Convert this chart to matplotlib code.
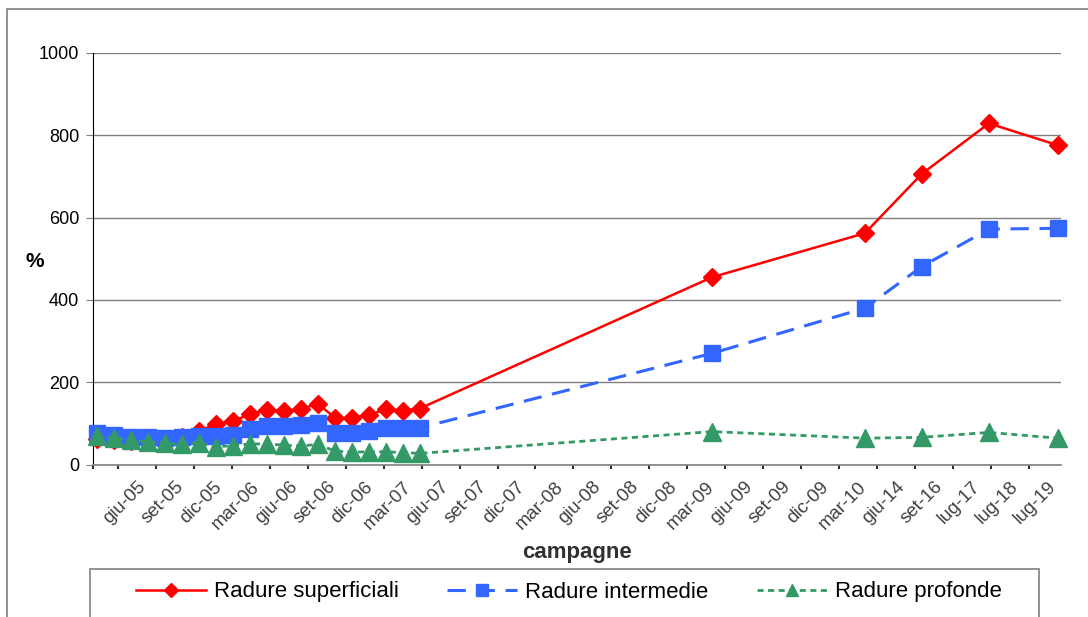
import matplotlib
matplotlib.use("Agg")
import matplotlib.pyplot as plt
from matplotlib.lines import Line2D
from matplotlib.patches import Rectangle

plt.rcParams['font.family'] = ['Liberation Sans', 'DejaVu Sans']

# campaign labels on the category axis
labels = ['giu-05', 'set-05', 'dic-05', 'mar-06', 'giu-06', 'set-06', 'dic-06',
          'mar-07', 'giu-07', 'set-07', 'dic-07', 'mar-08', 'giu-08', 'set-08',
          'dic-08', 'mar-09', 'giu-09', 'set-09', 'dic-09', 'mar-10', 'giu-14',
          'set-16', 'lug-17', 'lug-18', 'lug-19']

# sampling positions along the axis (in label-interval units)
x_obs = [-0.56, -0.11, 0.34, 0.78, 1.23, 1.68, 2.13, 2.58, 3.02, 3.47,
         3.92, 4.37, 4.82, 5.26, 5.71, 6.16, 6.61, 7.06, 7.50, 7.95,
         15.65, 19.68, 21.18, 22.95, 24.76]

superficiali = [63, 60, 58, 57, 58, 66, 82, 98, 105, 122,
                133, 129, 134, 148, 114, 112, 121, 134, 131, 136,
                455, 562, 706, 829, 776]
intermedie = [76, 72, 68, 67, 65, 68, 70, 69, 71, 86,
              93, 93, 95, 101, 76, 76, 81, 88, 88, 89,
              270, 380, 481, 572, 574]
profonde = [70, 64, 59, 55, 52, 49, 53, 43, 46, 50,
            50, 47, 45, 49, 33, 30, 31, 31, 29, 27,
            80, 64, 66, 78, 64]

series_names = ['Radure superficiali', 'Radure intermedie', 'Radure profonde']

RED = '#FF0000'
BLUE = '#3366FF'
GREEN = '#339966'

fig = plt.figure(figsize=(10.88, 6.17), dpi=100)
ax = fig.add_axes([93/1088, 1 - 464.5/617, (1061 - 93)/1088, (464.5 - 53)/617])

ax.plot(x_obs, superficiali, color=RED, lw=1.8, marker='D', ms=9.5,
        label=series_names[0], zorder=3, clip_on=False)
ax.plot(x_obs, intermedie, color=BLUE, lw=2.2, ls=(0, (6, 3.5)), marker='s', ms=11,
        label=series_names[1], zorder=4, clip_on=False)
ax.plot(x_obs, profonde, color=GREEN, lw=2.0, ls=(0, (2.2, 1.6)), marker='^', ms=13,
        label=series_names[2], zorder=5, clip_on=False)

ax.set_xlim(-0.66, 24.85)
ax.set_ylim(0, 1000)
ax.set_yticks(range(0, 1001, 200))
ax.yaxis.grid(True, color='#808080', lw=1)
ax.set_axisbelow(True)
ax.tick_params(axis='y', length=5, color='#808080', labelsize=13, pad=5)

# tick marks at interval boundaries, labels centred between them
ax.set_xticks([-0.66] + list(range(len(labels))))
ax.set_xticklabels([])
ax.tick_params(axis='x', which='major', length=3, color='#303030', width=1.5)
ax.set_xticks([k + 0.5 for k in range(len(labels))], minor=True)
ax.set_xticklabels(labels, minor=True, rotation=45, ha='right', va='top',
                   rotation_mode='anchor', fontsize=13.5, color='#404040')
ax.tick_params(axis='x', which='minor', length=0, pad=10)

for s in ['top', 'right']:
    ax.spines[s].set_visible(False)
ax.spines['left'].set_color('black')
ax.spines['bottom'].set_color('#808080')
ax.spines['bottom'].set_linewidth(1.2)

ax.set_xlabel('campagne', fontsize=16, fontweight='bold', color='#303030', labelpad=7)
fig.text(35/1088, 1 - 262/617, '%', fontsize=15, fontweight='bold', ha='center', va='center')

# outer chart frame
fig.patches.append(Rectangle((7/1088, -0.1), 1.2, 1 - 9/617 + 0.1, transform=fig.transFigure,
                             fill=False, edgecolor='#808080', lw=1.2))
# legend frame (runs past the bottom edge as in the source)
fig.patches.append(Rectangle((90/1088, -0.1), (1039 - 90)/1088, 1 - 569/617 + 0.1,
                             transform=fig.transFigure, fill=False, edgecolor='#808080', lw=1.2))

handles = [
    Line2D([], [], color=RED, lw=1.8, marker='D', ms=7),
    Line2D([], [], color=BLUE, lw=2.2, ls=(0, (6, 3.5)), marker='s', ms=8.5),
    Line2D([], [], color=GREEN, lw=2.0, ls=(0, (2.2, 1.6)), marker='^', ms=9),
]
fig.legend(handles, series_names, loc='center', bbox_to_anchor=(569/1088, 1 - 592/617),
           ncol=3, fontsize=16, frameon=False, handlelength=3.15,
           handletextpad=0.35, columnspacing=2.2, borderaxespad=0)

fig.savefig('out.png', dpi=100)
